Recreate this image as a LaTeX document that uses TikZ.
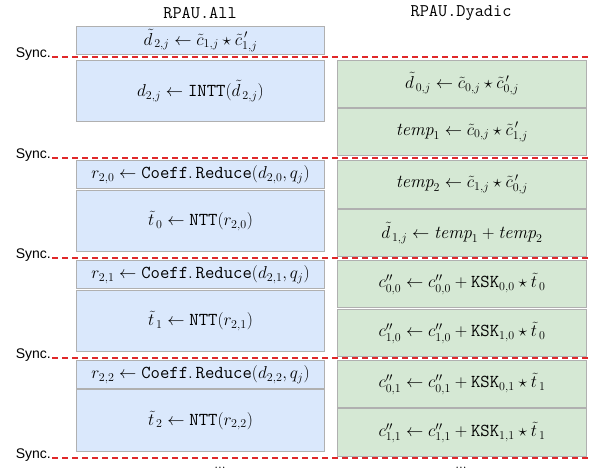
\documentclass[tikz,border=0pt]{standalone}
\usepackage{fontspec}
\usepackage{amsmath}
\newfontfamily\syncfont{Liberation Sans}
\definecolor{bluefill}{HTML}{DAE8FC}
\definecolor{greenfill}{HTML}{D5E8D4}
\definecolor{boxline}{HTML}{B0B0B0}
\definecolor{syncred}{HTML}{E0282A}
\tikzset{
  opbox/.style={draw=boxline, line width=0.9pt, anchor=north west, inner sep=0pt,
    font=\fontsize{18.2}{21}\selectfont},
  bluebox/.style={opbox, fill=bluefill},
  greenbox/.style={opbox, fill=greenfill},
  syncline/.style={draw=syncred, line width=1.6pt, dash pattern=on 6pt off 4pt},
  synclabel/.style={anchor=east, inner sep=0pt, font=\syncfont\fontsize{14}{16}\selectfont},
  header/.style={font=\ttfamily\fontsize{17.8}{20}\selectfont, inner sep=0pt},
  dots/.style={font=\fontsize{14}{16}\selectfont, inner sep=0pt}
}
\begin{document}
\begin{tikzpicture}[x=1pt,y=-1pt]
\useasboundingbox (0,0) rectangle (592,472);
% headers
\node[header] (hA) at (200,13) {RPAU.All};
\node[header] (hD) at (461,13) {RPAU.Dyadic};
% blue column
\node[bluebox, minimum width=248, minimum height=28] (b1) at (76,26)
  {$\tilde{d}_{\,2,j} \leftarrow \tilde{c}_{1,j} \star \tilde{c}^{\,\prime}_{1,j}$};
\node[bluebox, minimum width=248, minimum height=61] (b2) at (76,60)
  {$d_{2,j} \leftarrow \mathtt{INTT}(\tilde{d}_{\,2,j})$};
\node[bluebox, minimum width=248, minimum height=28] (b3) at (76,160)
  {$r_{2,0} \leftarrow \mathtt{Coeff.\,Reduce}(d_{2,0}, q_j)$};
\node[bluebox, minimum width=248, minimum height=61] (b4) at (76,190)
  {$\tilde{t}_{\,0} \leftarrow \mathtt{NTT}(r_{2,0})$};
\node[bluebox, minimum width=248, minimum height=28] (b5) at (76,260)
  {$r_{2,1} \leftarrow \mathtt{Coeff.\,Reduce}(d_{2,1}, q_j)$};
\node[bluebox, minimum width=248, minimum height=61] (b6) at (76,290)
  {$\tilde{t}_{\,1} \leftarrow \mathtt{NTT}(r_{2,1})$};
\node[bluebox, minimum width=248, minimum height=28] (b7) at (76,360)
  {$r_{2,2} \leftarrow \mathtt{Coeff.\,Reduce}(d_{2,2}, q_j)$};
\node[bluebox, minimum width=248, minimum height=62] (b8) at (76,389)
  {$\tilde{t}_{\,2} \leftarrow \mathtt{NTT}(r_{2,2})$};
% green column
\node[greenbox, minimum width=249, minimum height=47] (g1) at (337,60)
  {$\tilde{d}_{\,0,j} \leftarrow \tilde{c}_{0,j} \star \tilde{c}^{\,\prime}_{0,j}$};
\node[greenbox, minimum width=249, minimum height=47] (g2) at (337,108)
  {$\mathit{temp}_1 \leftarrow \tilde{c}_{0,j} \star \tilde{c}^{\,\prime}_{1,j}$};
\node[greenbox, minimum width=249, minimum height=48] (g3) at (337,160)
  {$\mathit{temp}_2 \leftarrow \tilde{c}_{1,j} \star \tilde{c}^{\,\prime}_{0,j}$};
\node[greenbox, minimum width=249, minimum height=47] (g4) at (337,209)
  {$\tilde{d}_{\,1,j} \leftarrow \mathit{temp}_1 + \mathit{temp}_2$};
\node[greenbox, minimum width=249, minimum height=47] (g5) at (337,260)
  {$c^{\prime\prime}_{0,0} \leftarrow c^{\prime\prime}_{0,0} + \mathtt{KSK}_{0,0} \star \tilde{t}_{\,0}$};
\node[greenbox, minimum width=249, minimum height=47] (g6) at (337,309)
  {$c^{\prime\prime}_{1,0} \leftarrow c^{\prime\prime}_{1,0} + \mathtt{KSK}_{1,0} \star \tilde{t}_{\,0}$};
\node[greenbox, minimum width=249, minimum height=47] (g7) at (337,360)
  {$c^{\prime\prime}_{0,1} \leftarrow c^{\prime\prime}_{0,1} + \mathtt{KSK}_{0,1} \star \tilde{t}_{\,1}$};
\node[greenbox, minimum width=249, minimum height=48] (g8) at (337,408)
  {$c^{\prime\prime}_{1,1} \leftarrow c^{\prime\prime}_{1,1} + \mathtt{KSK}_{1,1} \star \tilde{t}_{\,1}$};
% sync lines
\foreach \i/\yy in {1/57,2/158,3/258,4/358,5/458} {
  \coordinate (s\i a) at (52,\yy);
  \coordinate (s\i b) at (592,\yy);
  \node[synclabel] (sl\i) at (51,\yy-3) {Sync.};
  \draw[syncline] (s\i a) -- (s\i b);
}
% continuation dots
\node[dots] (dA) at (220,468) {...};
\node[dots] (dD) at (461,468) {...};
\end{tikzpicture}
\end{document}
